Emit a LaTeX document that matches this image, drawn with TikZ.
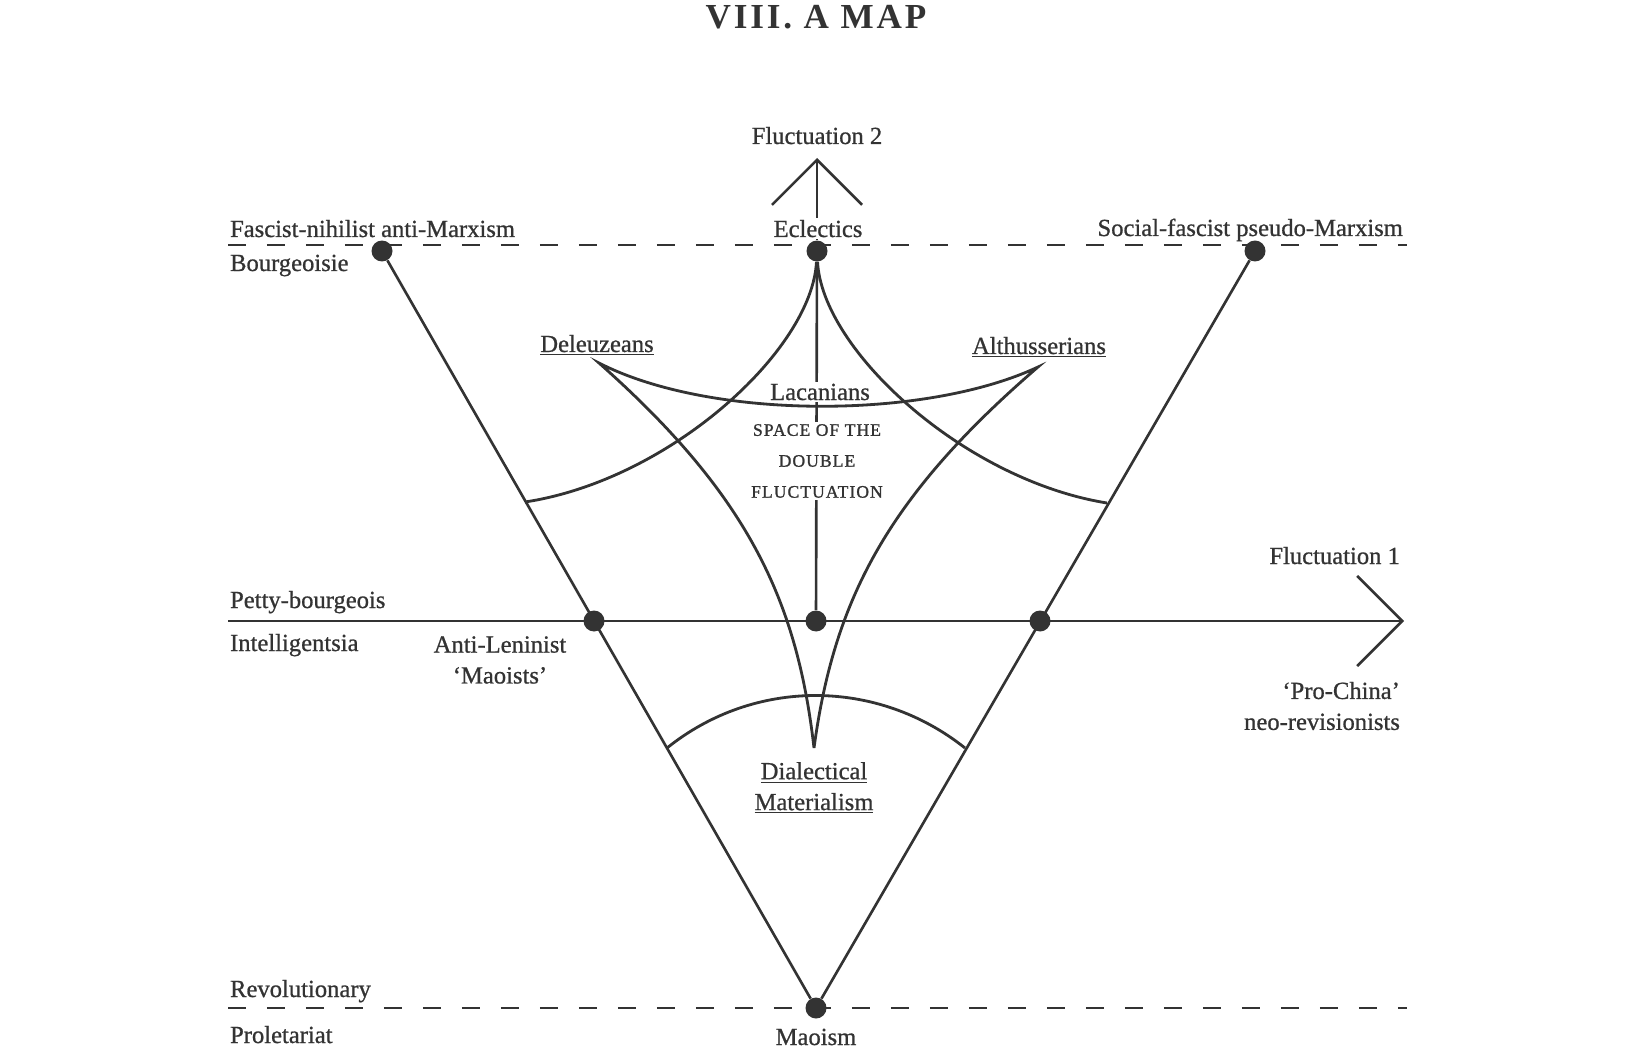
\documentclass[tikz,border=0pt]{standalone}
\usepackage{fontspec}
\setmainfont{Liberation Serif}
\usepackage{xcolor}
\usetikzlibrary{arrows.meta}

\definecolor{ink}{HTML}{333333}

\begin{document}
\begin{tikzpicture}[
        x=0.02cm,
        y=-0.02cm,
        every node/.style={text=ink},
        axis/.style={
            draw=ink,
            line width=1.5pt
        },
        curve/.style={
            draw=ink,
            line width=1.6pt
        },
        dashline/.style={
            draw=ink,
            line width=1.5pt,
            dash pattern=on 0.36cm off 0.42cm
        },
        barb/.style={
            -{Straight Barb[length=0.9cm,width=1.8cm]}
        },
        dot/.style={
            circle,
            fill=ink,
            inner sep=0pt,
            minimum size=0.42cm
        },
        txt/.style={
            font=\fontsize{14}{17.6}\selectfont\addfontfeatures{FakeBold=0.8},
            inner sep=1pt
        },
        cover/.style={
            txt,
            fill=white
        },
        caps/.style={
            font=\fontsize{10}{17.6}\selectfont\addfontfeatures{LetterSpace=6,FakeBold=1.2},
            fill=white,
            inner sep=1pt,
            align=center
        }
    ]
        \useasboundingbox (0,0) rectangle (1632,1057);

        \coordinate (topW) at (228,245);
        \coordinate (topE) at (1407,245);
        \coordinate (botW) at (228,1008);
        \coordinate (botE) at (1407,1008);
        \coordinate (midW) at (228,621);
        \coordinate (f1tip) at (1404,621);
        \coordinate (f2tip) at (817,158);
        \coordinate (aL) at (525,502);
        \coordinate (aR) at (1107,503);
        \coordinate (cuspL) at (599,363);
        \coordinate (cuspR) at (1038,367);
        \coordinate (tip) at (814,748);
        \coordinate (dmL) at (667,748);
        \coordinate (dmR) at (965,748);

        \node[dot] (dFas) at (382,251) {};
        \node[dot] (dEcl) at (817,251) {};
        \node[dot] (dSoc) at (1255,251) {};
        \node[dot] (dAnti) at (594,621) {};
        \node[dot] (origin) at (816,621) {};
        \node[dot] (dPro) at (1040,621) {};
        \node[dot] (dMao) at (816,1008) {};

        \draw[dashline] (topW) -- (topE);
        \draw[dashline] (botW) -- (botE);
        \draw[axis, barb] (midW) -- (f1tip);
        \draw[axis, barb] (dEcl) -- (f2tip);
        \draw[axis] (dEcl) -- (origin);
        \draw[axis] (dFas) -- (dMao);
        \draw[axis] (dSoc) -- (dMao);

        \draw[curve] (dEcl) .. controls (812,350) and (670,480) .. (aL);
        \draw[curve] (dEcl) .. controls (822,350) and (964,480) .. (aR);
        \draw[curve] (tip) .. controls (797,600) and (748,495) .. (cuspL)
            .. controls (710,420) and (925,420) .. (cuspR)
            .. controls (887,497) and (834,600) .. (tip);
        \draw[curve] (dmL) .. controls (754,678) and (877,678) .. (dmR);

        \node[font=\fontsize{20}{24}\selectfont\bfseries\addfontfeatures{LetterSpace=8}] (title) at (816,17) {VIII. A MAP};
        \node[txt, anchor=base] (flucTwo) at (817,144) {Fluctuation 2};
        \node[cover, anchor=base] (eclectics) at (818,237) {Eclectics};
        \node[txt, anchor=base west] (fascist) at (228,237) {Fascist-nihilist anti-Marxism};
        \node[txt, anchor=base west] (bourg) at (228,271) {Bourgeoisie};
        \node[txt, anchor=base east] (socfas) at (1405,236) {Social-fascist pseudo-Marxism};
        \node[txt, anchor=base] (deleuze) at (597,352) {\underline{Deleuzeans}};
        \node[txt, anchor=base] (althusser) at (1039,354) {\underline{Althusserians}};
        \node[cover, anchor=base] (lacan) at (820,400) {Lacanians};
        \node[caps] (space) at (817,461) {SPACE OF THE\\DOUBLE\\FLUCTUATION};
        \node[txt, anchor=base east] (flucOne) at (1402,564) {Fluctuation 1};
        \node[txt, anchor=base west] (petty) at (228,608) {Petty-bourgeois};
        \node[txt, anchor=base west] (intel) at (228,651) {Intelligentsia};
        \node[txt, align=center] (antilen) at (500,660) {Anti-Leninist\\`Maoists'};
        \node[txt, align=right, anchor=east] (prochina) at (1402,706) {`Pro-China'\\neo-revisionists};
        \node[txt, align=center] (diamat) at (814,788) {\underline{Dialectical}\\\underline{Materialism}};
        \node[txt, anchor=base west] (revol) at (228,997) {Revolutionary};
        \node[txt, anchor=base west] (prolet) at (228,1043) {Proletariat};
        \node[txt, anchor=base] (maoism) at (816,1045) {Maoism};
    \end{tikzpicture}
\end{document}
